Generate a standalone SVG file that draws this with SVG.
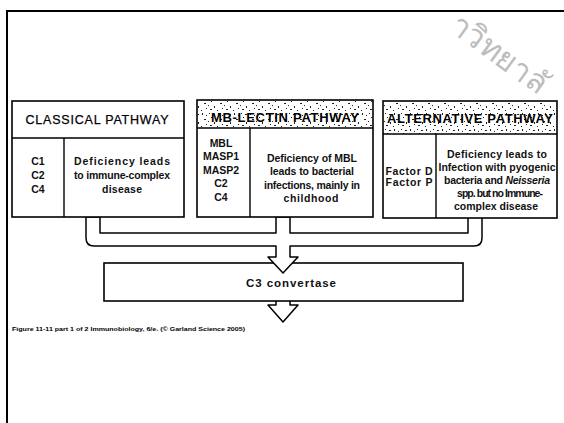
<svg xmlns="http://www.w3.org/2000/svg" width="564" height="423" viewBox="0 0 564 423">
  <style>
    .frame { fill: none; stroke: #000; stroke-width: 2; }
    .box { fill: #fff; stroke: #000; stroke-width: 1.6; }
    .rule { stroke: #000; stroke-width: 1.4; fill: none; }
    .title { font-family: "Liberation Sans", Arial, sans-serif; font-size: 12.5px; text-anchor: middle; fill: #000; stroke: #000; stroke-width: 0.25; }
    .title-b { font-family: "Liberation Sans", Arial, sans-serif; font-size: 13px; font-weight: bold; text-anchor: middle; fill: #000; }
    .body { font-family: "Liberation Sans", Arial, sans-serif; font-size: 10.5px; font-weight: bold; text-anchor: middle; fill: #111; }
    .label { font-family: "Liberation Sans", Arial, sans-serif; font-size: 11.5px; font-weight: bold; text-anchor: middle; fill: #111; }
    .caption { font-family: "Liberation Sans", Arial, sans-serif; font-size: 5.6px; font-weight: bold; fill: #000; }
    .tube { fill: #fff; stroke: #000; stroke-width: 1.5; stroke-linejoin: round; }
    .mark { font-family: "Noto Sans", "DejaVu Sans", sans-serif; font-size: 32px; fill: #bdbdbd; }
  </style>
  <defs>
    <!-- coarse halftone dots behind the shaded headings -->
    <pattern id="halftone" width="16" height="16" patternUnits="userSpaceOnUse">
      <rect width="16" height="16" fill="#fff"/>
      <g fill="#222">
        <rect x="1" y="1" width="1" height="1"/>
        <rect x="5" y="2" width="2" height="1"/>
        <rect x="10" y="1" width="1" height="2"/>
        <rect x="14" y="3" width="1" height="1"/>
        <rect x="3" y="5" width="1" height="1"/>
        <rect x="12" y="7" width="2" height="1"/>
        <rect x="0" y="9" width="1" height="1"/>
        <rect x="6" y="10" width="1" height="2"/>
        <rect x="14" y="12" width="1" height="1"/>
        <rect x="2" y="13" width="2" height="1"/>
        <rect x="9" y="14" width="1" height="1"/>
      </g>
    </pattern>
  </defs>

  <rect width="564" height="423" fill="#fff"/>

  <!-- page frame -->
  <path class="frame" d="M7,423 V11 H564"/>

  <!-- watermark -->
  <text class="mark" x="448" y="30" transform="rotate(36 448 30)" textLength="112" lengthAdjust="spacingAndGlyphs">าวิทยาลั</text>

  <!-- connectors: merging tube into C3 convertase, and the outgoing arrow -->
  <g id="connectors">
    <path class="tube" d="M276,301 V305 H268 L283,322 L298,305 H290 V301"/>
  </g>

  <g id="c3-convertase">
    <rect class="box" x="104" y="263" width="359" height="38"/>
    <text class="label" x="291" y="287" textLength="90" lengthAdjust="spacing">C3 convertase</text>
  </g>

  <g id="merge-tube">
    <path class="tube" d="M86,217 V238 Q86,246 94,246 H276 V257 H268 L283,273 L298,257 H290 V246 H474 Q482,246 482,238 V217 H468 V233 H290 V217 H276 V233 H100 V217 Z"/>
  </g>

  <!-- classical pathway -->
  <g id="classical">
    <rect class="box" x="12" y="101" width="172" height="116"/>
    <line class="rule" x1="12" y1="138" x2="184" y2="138"/>
    <line class="rule" x1="64" y1="138" x2="64" y2="217"/>
    <text class="title" x="97" y="124" textLength="143" lengthAdjust="spacing">CLASSICAL PATHWAY</text>
    <text class="body" x="38" y="164.5">C1</text>
    <text class="body" x="38" y="178.5">C2</text>
    <text class="body" x="38" y="192.5">C4</text>
    <text class="body" x="122" y="164.5" textLength="96" lengthAdjust="spacing">Deficiency leads</text>
    <text class="body" x="122" y="178.5" textLength="96" lengthAdjust="spacing">to immune-complex</text>
    <text class="body" x="122" y="192.5" textLength="40" lengthAdjust="spacing">disease</text>
  </g>

  <!-- MB-lectin pathway -->
  <g id="mb-lectin">
    <rect class="box" x="197" y="100" width="176" height="117"/>
    <rect x="198" y="101" width="174" height="27" fill="url(#halftone)"/>
    <line class="rule" x1="197" y1="128" x2="373" y2="128"/>
    <line class="rule" x1="250" y1="128" x2="250" y2="217"/>
    <text class="title-b" x="285" y="122" textLength="148" lengthAdjust="spacing">MB-LECTIN PATHWAY</text>
    <text class="body" x="221" y="146.5">MBL</text>
    <text class="body" x="221" y="160">MASP1</text>
    <text class="body" x="221" y="173.5">MASP2</text>
    <text class="body" x="221" y="187">C2</text>
    <text class="body" x="221" y="200.5">C4</text>
    <text class="body" x="312" y="161.5" textLength="90" lengthAdjust="spacing">Deficiency of MBL</text>
    <text class="body" x="312" y="175" textLength="84" lengthAdjust="spacing">leads to bacterial</text>
    <text class="body" x="312" y="188.5" textLength="96" lengthAdjust="spacing">infections, mainly in</text>
    <text class="body" x="311" y="202" textLength="55" lengthAdjust="spacing">childhood</text>
  </g>

  <!-- alternative pathway -->
  <g id="alternative">
    <rect class="box" x="383" y="101" width="174" height="117"/>
    <rect x="384" y="102" width="172" height="32" fill="url(#halftone)"/>
    <line class="rule" x1="383" y1="134" x2="557" y2="134"/>
    <line class="rule" x1="436" y1="134" x2="436" y2="218"/>
    <text class="title-b" x="470" y="123" font-size="13.5" textLength="166" lengthAdjust="spacing">ALTERNATIVE PATHWAY</text>
    <text class="body" x="409" y="174.5" textLength="47" lengthAdjust="spacing">Factor D</text>
    <text class="body" x="409" y="186" textLength="47" lengthAdjust="spacing">Factor P</text>
    <text class="body" x="497" y="157.5" textLength="100" lengthAdjust="spacing">Deficiency leads to</text>
    <text class="body" x="497" y="170.5" textLength="117" lengthAdjust="spacing">Infection with pyogenic</text>
    <text class="body" x="497" y="183.5" textLength="106" lengthAdjust="spacing">bacteria and <tspan font-style="italic">Neisseria</tspan></text>
    <text class="body" x="500" y="196.5" textLength="86" lengthAdjust="spacing">spp. but no Immune-</text>
    <text class="body" x="496" y="209.5" textLength="84" lengthAdjust="spacing">complex disease</text>
  </g>

  <text class="caption" x="12" y="331" textLength="233" lengthAdjust="spacingAndGlyphs">Figure 11-11 part 1 of 2 Immunobiology, 6/e. (© Garland Science 2005)</text>
</svg>
